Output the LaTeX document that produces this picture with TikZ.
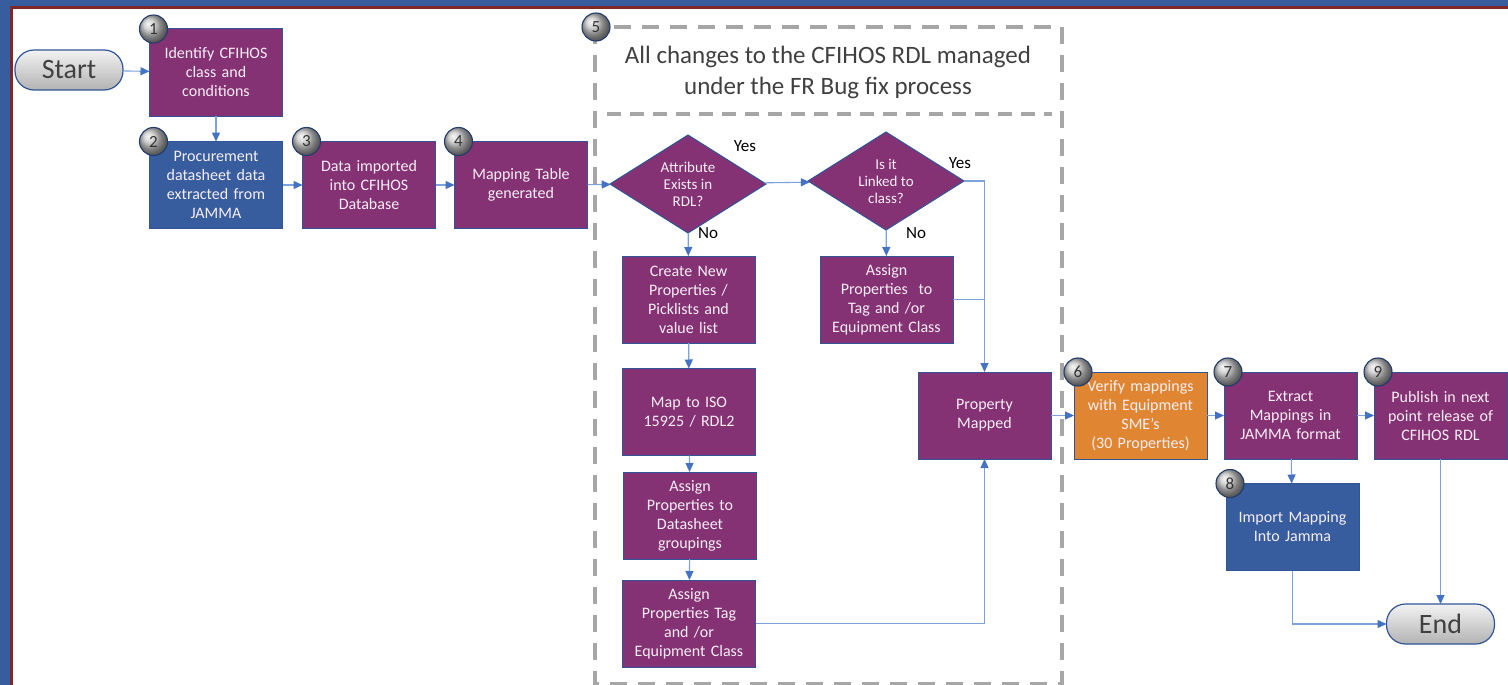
\documentclass[tikz,border=0pt]{standalone}
\usepackage{fontspec}
\setmainfont{Carlito}
\usetikzlibrary{arrows.meta,shapes.geometric,positioning}

\definecolor{cfpurple}{RGB}{132,50,116}
\definecolor{cfblue}{RGB}{56,93,158}
\definecolor{cforange}{RGB}{224,134,50}
\definecolor{edgeblue}{RGB}{47,85,151}
\definecolor{linkblue}{RGB}{124,162,222}
\definecolor{tipblue}{RGB}{68,114,196}
\definecolor{framered}{RGB}{128,40,40}
\definecolor{frameblue}{RGB}{56,93,158}
\definecolor{dashgray}{RGB}{166,166,166}
\definecolor{boxtext}{RGB}{246,238,244}

\begin{document}
\begin{tikzpicture}[x=1pt, y=-1pt,
    procbox/.style={rectangle, draw=edgeblue, line width=1pt, minimum width=133pt, minimum height=87pt,
    text width=128pt, align=center, inner sep=0pt, outer sep=0pt, text=boxtext, font=\fontsize{16}{19}\selectfont},
    decision/.style={diamond, draw=edgeblue, line width=1pt, fill=cfpurple, minimum width=156pt, minimum height=98pt,
    shape aspect=1.6, inner sep=0pt, outer sep=0pt, align=center, text=boxtext, font=\fontsize{15}{17}\selectfont},
    terminal/.style={rectangle, rounded corners=19pt, draw=edgeblue, line width=1.2pt, top color=gray!10, bottom color=gray!60,
    minimum width=108pt, minimum height=40pt, outer sep=0pt, text=black!75, font=\fontsize{28}{30}\selectfont},
    numball/.style={circle, draw=edgeblue!70!black, line width=1.1pt, ball color=gray!45, minimum size=28pt,
    inner sep=0pt, xshift=4pt, text=black!80, font=\fontsize{17}{17}\selectfont},
    link/.style={draw=linkblue, line width=1.1pt},
    flow/.style={link, -{Triangle[length=9pt, width=8pt, fill=tipblue, color=tipblue]}},
    answer/.style={text=black, font=\fontsize{17}{17}\selectfont},
    fence/.style={draw=dashgray, line width=4pt, dash pattern=on 17pt off 11pt}]

    % frame
    \fill[frameblue] (0,0) rectangle (1508,685);
    \fill[framered] (10,6) rectangle (1508,685);
    \fill[white] (13,9) rectangle (1508,685);
    \useasboundingbox (0,0) rectangle (1508,685);

    % bug fix scope
    \draw[fence] (595,27) rectangle (1062,684);
    \draw[fence, line width=3.5pt, dash pattern=on 14pt off 9pt] (607,114) -- (1052,114);
    \node (scopetitle) [align=center, text=black!75, font=\fontsize{25}{31}\selectfont] at (828,72.5)
    {All changes to the CFIHOS RDL managed\\ under the FR Bug fix process};

    \node (start) [terminal] at (69,70) {Start};
    \node (identify) [procbox, fill=cfpurple] at (216,72.5) {Identify CFIHOS\\ class and\\ conditions};
    \node (procure) [procbox, fill=cfblue] at (216,185) {Procurement\\ datasheet data\\ extracted from\\ JAMMA};
    \node (import) [procbox, fill=cfpurple, right=20pt of procure] {Data imported\\ into CFIHOS\\ Database};
    \node (table) [procbox, fill=cfpurple, right=19pt of import] {Mapping Table\\ generated};

    \node (exists) [decision] at (688,184) {Attribute\\ Exists in\\ RDL?};
    \node (linked) [decision] at (886,181) {Is it\\ Linked to\\ class?};
    \node (create) [procbox, fill=cfpurple] at (688.5,299.5) {Create New\\ Properties /\\ Picklists and\\ value list};
    \node (assignclass) [procbox, fill=cfpurple] at (886.5,299.5) {Assign\\ Properties\ \ to\\ Tag and /or\\ Equipment Class};
    \node (iso) [procbox, fill=cfpurple] at (689,412) {Map to ISO\\ 15925 / RDL2};
    \node (groups) [procbox, fill=cfpurple] at (690,515.5) {Assign\\ Properties to\\ Datasheet\\ groupings};
    \node (assigntag) [procbox, fill=cfpurple] at (689,623.5) {Assign\\ Properties Tag\\ and /or\\ Equipment Class};
    \node (mapped) [procbox, fill=cfpurple] at (984.5,415.5) {Property\\ Mapped};

    \node (verify) [procbox, fill=cforange] at (1140.5,415.5) {Verify mappings\\ with Equipment\\ SME’s\\ (30 Properties)};
    \node (extract) [procbox, fill=cfpurple, right=17pt of verify] {Extract\\ Mappings in\\ JAMMA format};
    \node (publish) [procbox, fill=cfpurple, right=17pt of extract] {Publish in next\\ point release of\\ CFIHOS RDL};
    \node (jamma) [procbox, fill=cfblue] at (1292.5,527) {Import Mapping\\ Into Jamma};
    \node (finish) [terminal] at (1440.5,624) {End};

    % answers
    \node (yes1) [answer] at (745,146) {Yes};
    \node (no1) [answer] at (708,233) {No};
    \node (yes2) [answer] at (960,163) {Yes};
    \node (no2) [answer] at (916,233) {No};

    % connectors
    \draw[flow] (start) -- (identify);
    \draw[flow] (identify) -- (procure);
    \draw[flow] (procure) -- (import);
    \draw[flow] (import) -- (table);
    \draw[flow] (table) -- (exists);
    \draw[flow] (exists) -- (linked);
    \draw[flow] (exists) -- (create);
    \draw[flow] (linked) -- (assignclass);
    \draw[flow] (create) -- (iso);
    \draw[flow] (iso) -- (groups);
    \draw[flow] (groups) -- (assigntag);
    \draw[flow] (linked.east) -| (mapped.north);
    \draw[link] (assignclass.east) -- (assignclass.east -| mapped.north);
    \draw[flow] (assigntag.east) -| (mapped.south);
    \draw[flow] (mapped) -- (verify);
    \draw[flow] (verify) -- (extract);
    \draw[flow] (extract) -- (publish);
    \draw[flow] (extract) -- (jamma);
    \draw[flow] (jamma.south) |- (finish.west);
    \draw[flow] (publish) -- (finish);

    % step numbers
    \node (n1) [numball] at (identify.north west) {1};
    \node (n2) [numball] at (procure.north west) {2};
    \node (n3) [numball] at (import.north west) {3};
    \node (n4) [numball] at (table.north west) {4};
    \node (n5) [numball, xshift=-3pt] at (595,27) {5};
    \node (n6) [numball] at (verify.north west) {6};
    \node (n7) [numball] at (extract.north west) {7};
    \node (n8) [numball] at (jamma.north west) {8};
    \node (n9) [numball] at (publish.north west) {9};
\end{tikzpicture}
\end{document}
